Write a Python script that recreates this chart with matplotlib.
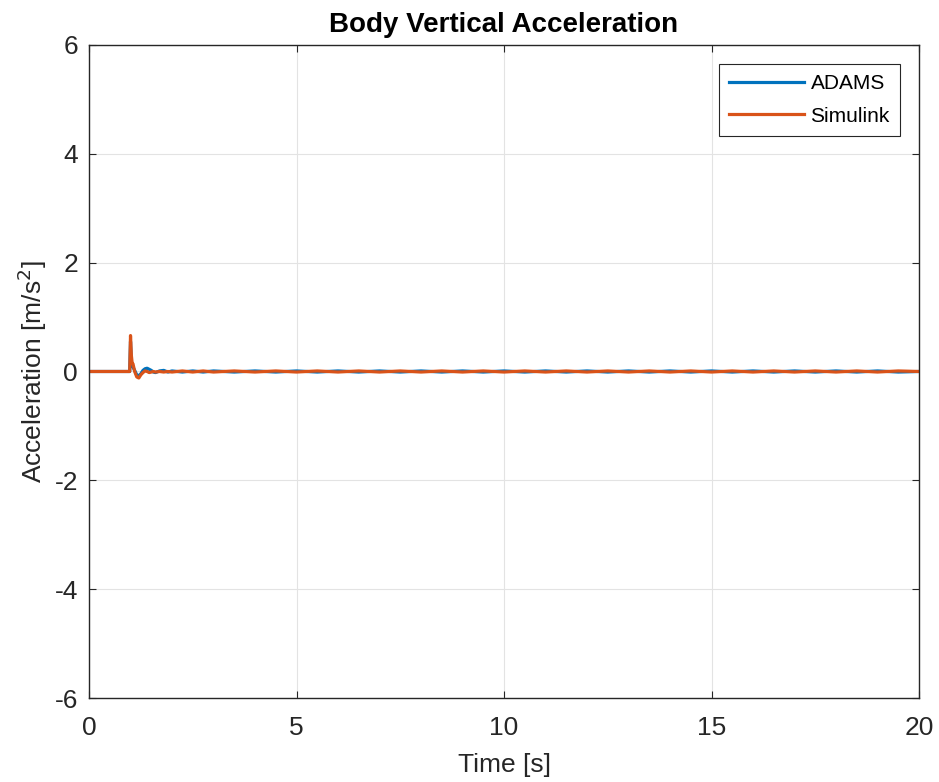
import numpy as np
import matplotlib.pyplot as plt

plt.rcParams['font.family'] = ['Liberation Sans', 'DejaVu Sans']
plt.rcParams['axes.unicode_minus'] = False

# data
time = [0.0, 0.98, 1.0, 1.02, 1.04, 1.06, 1.1, 1.15, 1.2, 1.25, 1.3, 1.35, 1.4,
        1.45, 1.5, 1.55, 1.6, 1.7, 1.8, 1.9, 2.0, 2.25, 2.5, 2.75, 3.0, 3.5,
        4.0, 4.5, 5.0, 5.5, 6.0, 6.5, 7.0, 7.5, 8.0, 8.5, 9.0, 9.5, 10.0,
        10.5, 11.0, 11.5, 12.0, 12.5, 13.0, 13.5, 14.0, 14.5, 15.0, 15.5,
        16.0, 16.5, 17.0, 17.5, 18.0, 18.5, 19.0, 19.5, 20.0]
adams = [0.0, 0.0, 0.55, 0.2, 0.1, 0.08, 0.02, -0.06, -0.08, -0.04, 0.02,
         0.05, 0.06, 0.04, 0.02, -0.01, -0.02, 0.01, 0.02, -0.01, 0.01,
         -0.01, 0.01, -0.01, 0.01, -0.01, 0.01, -0.01, 0.01, -0.01, 0.01,
         -0.01, 0.01, -0.01, 0.01, -0.01, 0.01, -0.01, 0.01, -0.01, 0.01,
         -0.01, 0.01, -0.01, 0.01, -0.01, 0.01, -0.01, 0.01, -0.01, 0.01,
         -0.01, 0.01, -0.01, 0.01, -0.01, 0.01, -0.01, 0.0]
simulink = [0.0, 0.0, 0.66, 0.3, 0.15, 0.14, 0.0, -0.1, -0.12, -0.06, -0.02,
            0.01, 0.0, -0.02, -0.01, 0.0, -0.01, 0.0, -0.01, 0.0, -0.01,
            0.01, -0.01, 0.01, -0.01, 0.01, -0.01, 0.01, -0.01, 0.01, -0.01,
            0.01, -0.01, 0.01, -0.01, 0.01, -0.01, 0.01, -0.01, 0.01, -0.01,
            0.01, -0.01, 0.01, -0.01, 0.01, -0.01, 0.01, -0.01, 0.01, -0.01,
            0.01, -0.01, 0.01, -0.01, 0.01, -0.01, 0.01, 0.0]

fig = plt.figure(figsize=(9.39, 7.82), dpi=100)
ax = fig.add_axes([0.0948, 0.1074, 0.8839, 0.8351])

ax.plot(time, adams, color='#0072BD', lw=2.3, label='ADAMS')
ax.plot(time, simulink, color='#D95319', lw=2.3, label='Simulink')

ax.set_xlim(0, 20)
ax.set_ylim(-6, 6)
ax.set_xticks(np.arange(0, 21, 5))
ax.set_yticks(np.arange(-6, 7, 2))
ax.grid(True, color='#e3e3e3', lw=0.8)
ax.set_axisbelow(True)
for s in ax.spines.values():
    s.set_color('#262626')
    s.set_linewidth(1.0)
ax.tick_params(labelsize=19, colors='#262626', direction='in', length=5,
               top=True, right=True)
ax.tick_params(axis='x', pad=13)
ax.tick_params(axis='y', pad=8)

ax.set_title('Body Vertical Acceleration', fontsize=20, fontweight='bold', pad=9)
ax.set_xlabel('Time [s]', fontsize=19, color='#262626', labelpad=9)
ax.set_ylabel('Acceleration [m/s$^2$]', fontsize=19, color='#262626', labelpad=4)

leg = ax.legend(loc='upper right', fontsize=15, fancybox=False, handlelength=3.6,
                borderaxespad=0.9, framealpha=1, edgecolor='#262626',
                labelspacing=0.65, handletextpad=0.3, borderpad=0.5)
leg.get_frame().set_linewidth(0.8)

fig.savefig('out.png', dpi=100)
